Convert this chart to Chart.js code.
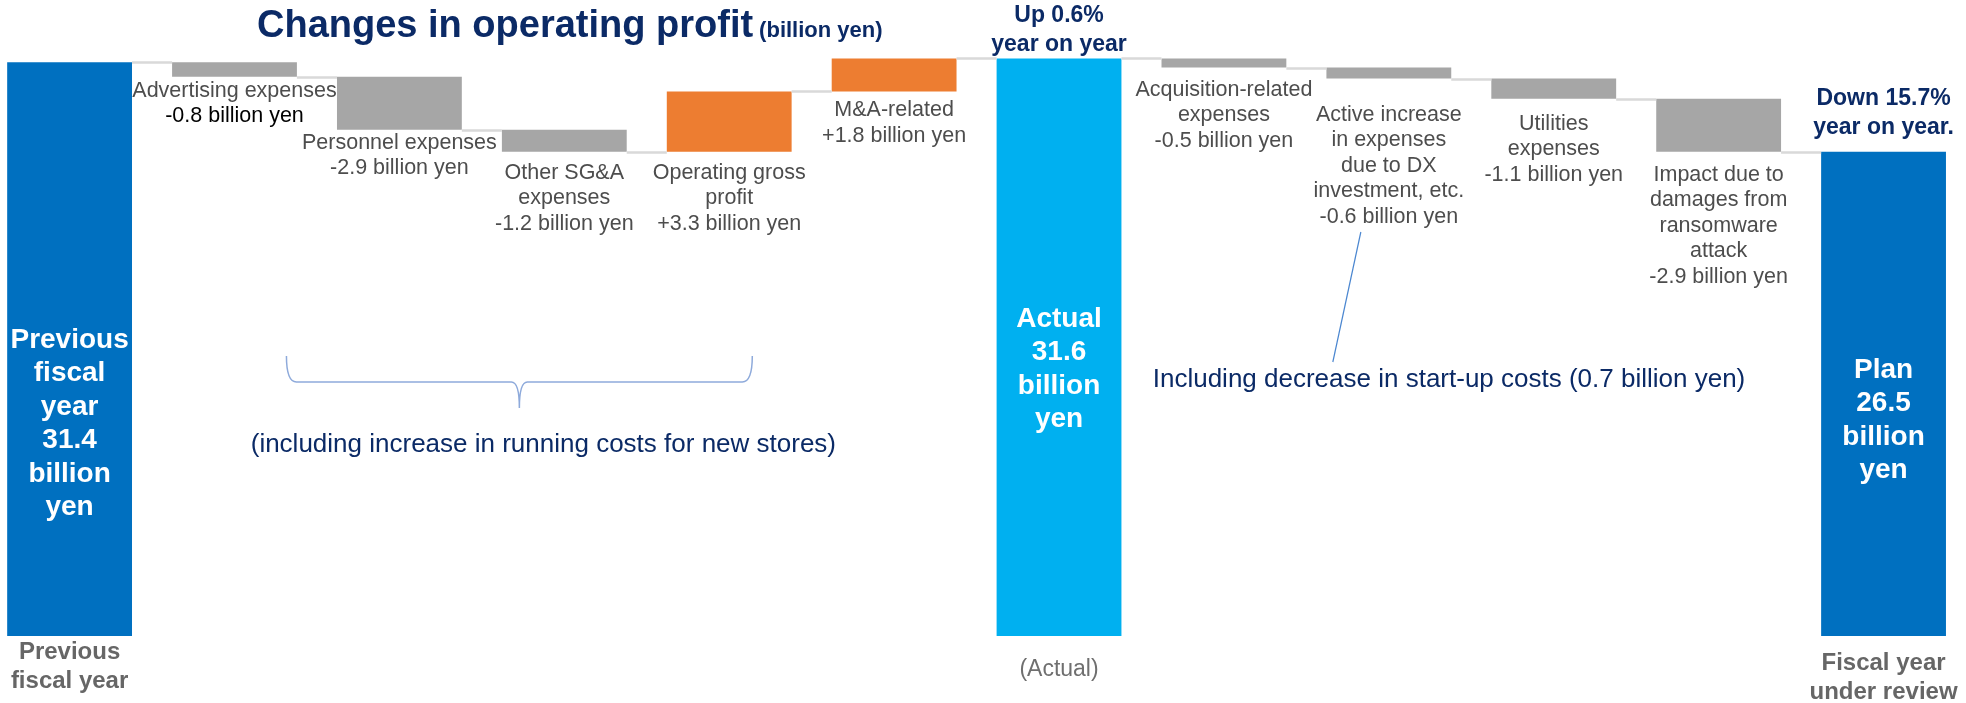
<!DOCTYPE html>
<html>
<head>
<meta charset="utf-8">
<title>Changes in operating profit</title>
<script src="https://cdn.jsdelivr.net/npm/chart.js@4"></script>
<style>
  html, body { margin: 0; padding: 0; background: #fff; }
  #wrap { width: 1966px; height: 703px; }
</style>
</head>
<body>
<div id="wrap"><canvas id="chart" width="1966" height="703"></canvas></div>
<script>
// values in billion yen
const categories = [
  "Previous fiscal year", "Advertising expenses", "Personnel expenses", "Other SG&A expenses",
  "Operating gross profit", "M&A-related", "Actual", "Acquisition-related expenses",
  "Active increase in expenses due to DX investment, etc.", "Utilities expenses",
  "Impact due to damages from ransomware attack", "Fiscal year under review"
];
const steps = [31.4, -0.8, -2.9, -1.2, 3.3, 1.8, 31.6, -0.5, -0.6, -1.1, -2.9, 26.5];
const isTotal = [true, false, false, false, false, false, true, false, false, false, false, true];
const stepNames = [
  null, ["Advertising expenses"], ["Personnel expenses"], ["Other SG&A", "expenses"],
  ["Operating gross", "profit"], ["M&A-related"], null, ["Acquisition-related", "expenses"],
  ["Active increase", "in expenses", "due to DX", "investment, etc."], ["Utilities", "expenses"],
  ["Impact due to", "damages from", "ransomware", "attack"], null
];
const totalNames = { 0: ["Previous", "fiscal", "year"], 6: ["Actual"], 11: ["Plan"] };
const axisLabels = { 0: ["Previous", "fiscal year"], 6: ["(Actual)"], 11: ["Fiscal year", "under review"] };
const yoyNotes = { 6: ["Up 0.6%", "year on year"], 11: ["Down 15.7%", "year on year."] };
const yMax = 34.8;

const NAVY = "#0b2a66";
const FONT = "'Liberation Sans', Arial, sans-serif";

// floating ranges for the waterfall
let run = 0;
const ranges = steps.map((v, i) => {
  if (isTotal[i]) { run = v; return [0, v]; }
  const r = [run, run + v];
  run += v;
  return r;
});
const levels = ranges.map(r => r[1]);

const colors = steps.map((v, i) => {
  if (isTotal[i]) return i === 6 ? "#00b0f0" : "#0070c0";
  return v < 0 ? "#a6a6a6" : "#ed7d31";
});

// label placement (px below bar bottom), only for text
const labelGap = [0, 14, 13, 21, 21, 19, 0, 22, 36, 25, 23, 0];
const innerAt = { 0: 11.6, 6: 14.6, 11: 11.8 };
const noteRise = { 6: 14, 11: 24 };
const axisDrop = { 0: 16, 6: 34, 11: 27 };

function lines(ctx, arr, cx, y0, step) {
  arr.forEach((t, k) => ctx.fillText(t, cx, y0 + k * step));
}

const notes = {
  id: "notes",
  afterDatasetsDraw(chart) {
    const { ctx, scales: { x, y } } = chart;
    const bars = chart.getDatasetMeta(0).data;
    ctx.save();

    // connectors
    ctx.strokeStyle = "#d9d9d9";
    ctx.lineWidth = 2.5;
    for (let i = 0; i < bars.length - 1; i++) {
      const a = bars[i], b = bars[i + 1];
      const ly = Math.round(y.getPixelForValue(levels[i])) + 0.5;
      ctx.beginPath();
      ctx.moveTo(a.x + a.width / 2, ly);
      ctx.lineTo(b.x - b.width / 2, ly);
      ctx.stroke();
    }

    ctx.textAlign = "center";
    ctx.textBaseline = "middle";

    // step labels
    stepNames.forEach((names, i) => {
      if (!names) return;
      const v = steps[i];
      const bottom = y.getPixelForValue(Math.min(...ranges[i]));
      const y0 = bottom + labelGap[i];
      ctx.font = "21.5px " + FONT;
      ctx.fillStyle = "#4d4d4d";
      lines(ctx, names, bars[i].x, y0, 25.5);
      ctx.fillStyle = i === 1 ? "#000000" : "#4d4d4d";
      const txt = (v > 0 ? "+" : "-") + Math.abs(v).toFixed(1) + " billion yen";
      ctx.fillText(txt, bars[i].x, y0 + names.length * 25.5);
    });

    // totals inside bars
    Object.keys(totalNames).forEach(k => {
      const i = +k;
      const arr = [...totalNames[i], steps[i].toFixed(1), "billion", "yen"];
      const step = 33.5;
      const cy = y.getPixelForValue(innerAt[i]);
      ctx.font = "bold 28px " + FONT;
      ctx.fillStyle = "#ffffff";
      lines(ctx, arr, bars[i].x, cy - (arr.length - 1) * step / 2, step);
    });

    // year-on-year notes above bars
    Object.keys(yoyNotes).forEach(k => {
      const i = +k;
      const top = y.getPixelForValue(steps[i]);
      ctx.font = "bold 23px " + FONT;
      ctx.fillStyle = NAVY;
      const arr = yoyNotes[i];
      lines(ctx, arr, bars[i].x, top - noteRise[i] - (arr.length - 1) * 29, 29);
    });

    // category labels under the totals
    const base = y.getPixelForValue(0);
    Object.keys(axisLabels).forEach(k => {
      const i = +k;
      ctx.font = (i === 6 ? "23px " : "bold 24px ") + FONT;
      ctx.fillStyle = i === 6 ? "#6f6f6f" : "#666666";
      lines(ctx, axisLabels[i], bars[i].x, base + axisDrop[i], 29.5);
    });

    // brace under SG&A group
    const bl = x.getPixelForValue(1.315), br = x.getPixelForValue(4.14);
    const bm = (bl + br) / 2;
    const bt = 356, bh = 382, bp = 408;
    ctx.strokeStyle = "#8eaadb";
    ctx.lineWidth = 1.5;
    ctx.beginPath();
    ctx.moveTo(bl, bt);
    ctx.quadraticCurveTo(bl, bh, bl + 10, bh);
    ctx.lineTo(bm - 8, bh);
    ctx.quadraticCurveTo(bm, bh, bm, bp);
    ctx.quadraticCurveTo(bm, bh, bm + 8, bh);
    ctx.lineTo(br - 10, bh);
    ctx.quadraticCurveTo(br, bh, br, bt);
    ctx.stroke();

    ctx.font = "26px " + FONT;
    ctx.fillStyle = NAVY;
    ctx.fillText("(including increase in running costs for new stores)", bm + 24, 445);

    // leader line for DX note
    ctx.strokeStyle = "#4a86d0";
    ctx.lineWidth = 1.2;
    ctx.beginPath();
    ctx.moveTo(bars[8].x - 28, 232);
    ctx.lineTo(bars[8].x - 56, 362);
    ctx.stroke();
    ctx.fillText("Including decrease in start-up costs (0.7 billion yen)", 1449, 380);

    // title
    ctx.textAlign = "left";
    ctx.textBaseline = "alphabetic";
    ctx.font = "bold 38px " + FONT;
    const main = "Changes in operating profit";
    ctx.fillText(main, 257, 37);
    const w = ctx.measureText(main).width;
    ctx.font = "bold 22px " + FONT;
    ctx.fillText("(billion yen)", 257 + w + 6, 37);

    ctx.restore();
  }
};

new Chart(document.getElementById("chart"), {
  type: "bar",
  data: {
    labels: categories,
    datasets: [{
      data: ranges.map((r, i) => ({ x: i, y: r })),
      backgroundColor: colors,
      borderWidth: 0,
      categoryPercentage: 1,
      barPercentage: 0.757
    }]
  },
  options: {
    responsive: false,
    animation: false,
    devicePixelRatio: 1,
    layout: { padding: { left: 0, right: 0, top: 0, bottom: 67 } },
    plugins: { legend: { display: false }, tooltip: { enabled: false } },
    scales: {
      x: {
        type: "linear", display: false, offset: false,
        min: -0.422, max: 11.5,
        grid: { offset: false },
        afterBuildTicks: s => { s.ticks = categories.map((c, i) => ({ value: i })); }
      },
      y: { display: false, min: 0, max: yMax }
    }
  },
  plugins: [notes]
});
</script>
</body>
</html>
